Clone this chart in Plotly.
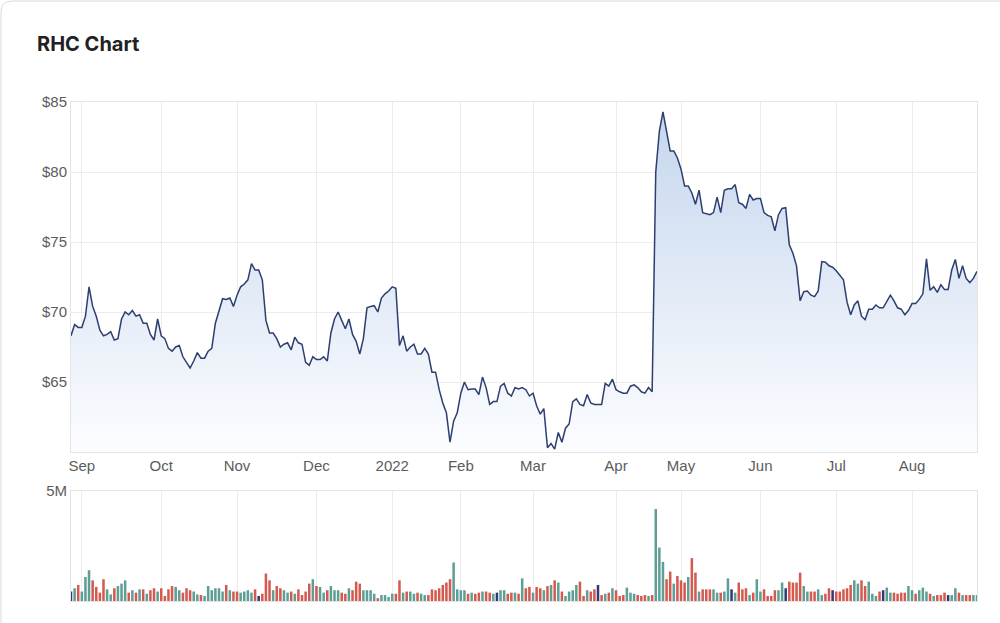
import pandas as pd
import plotly.graph_objects as go

# ---------------- data ----------------
holidays = ["2021-12-27", "2021-12-28", "2022-01-03", "2022-01-26",
            "2022-04-15", "2022-04-18", "2022-04-25", "2022-06-13"]
trade_dates = [d.strftime("%Y-%m-%d") for d in
               pd.bdate_range("2021-08-27", "2022-08-25") if d.strftime("%Y-%m-%d") not in holidays]

close_prices = [
    68.3, 69.1, 68.9, 68.9, 69.7, 71.8, 70.4, 69.7, 68.7, 68.3,
    68.4, 68.6, 68.0, 68.1, 69.5, 70.0, 69.8, 70.1, 69.7, 69.8,
    69.2, 69.2, 68.4, 68.0, 69.5, 68.3, 68.1, 67.4, 67.2, 67.5,
    67.6, 66.8, 66.4, 66.0, 66.5, 67.1, 66.7, 66.7, 67.2, 67.4,
    69.2, 70.0, 70.95, 70.9, 71.0, 70.4, 71.2, 71.8, 72.0, 72.3,
    73.45, 73.0, 73.0, 72.3, 69.4, 68.5, 68.5, 68.1, 67.5, 67.7,
    67.8, 67.3, 68.2, 67.8, 67.7, 66.4, 66.2, 66.8, 66.6, 66.6,
    66.8, 66.5, 68.5, 69.5, 70.0, 69.4, 68.8, 69.5, 68.4, 67.9,
    67.0, 68.1, 70.3, 70.4, 70.45, 70.0, 71.0, 71.3, 71.5, 71.8,
    71.7, 67.6, 68.3, 67.2, 67.5, 67.7, 67.0, 67.0, 67.4, 67.0,
    65.7, 65.7, 64.45, 63.5, 62.8, 60.7, 62.2, 62.8, 64.2, 65.0,
    64.45, 64.5, 64.5, 64.1, 65.35, 64.6, 63.4, 63.6, 63.6, 64.7,
    64.9, 64.2, 64.0, 64.6, 64.5, 64.6, 64.45, 64.0, 64.2, 63.3,
    62.7, 63.1, 60.3, 60.6, 60.2, 61.4, 60.7, 61.7, 62.0, 63.6,
    63.8, 63.4, 63.3, 64.1, 63.5, 63.4, 63.4, 63.4, 64.9, 64.7,
    65.2, 64.45, 64.3, 64.2, 64.2, 64.7, 64.8, 64.6, 64.3, 64.2,
    64.6, 64.3, 80.0, 82.9, 84.3, 83.0, 81.5, 81.5, 81.0, 80.2,
    79.0, 79.0, 78.5, 77.7, 78.7, 77.1, 77.0, 76.95, 77.1, 78.2,
    77.1, 78.7, 78.8, 78.8, 79.1, 77.8, 77.7, 77.4, 78.4, 78.0,
    78.1, 78.1, 77.1, 76.9, 76.8, 75.8, 76.95, 77.4, 77.45, 74.8,
    74.2, 73.3, 70.8, 71.45, 71.5, 71.2, 71.1, 71.5, 73.6, 73.55,
    73.3, 73.2, 72.95, 72.6, 72.3, 70.7, 69.8, 70.5, 70.8, 69.7,
    69.45, 70.2, 70.2, 70.5, 70.3, 70.3, 70.8, 71.2, 70.8, 70.3,
    70.2, 69.8, 70.1, 70.6, 70.6, 70.9, 71.3, 73.8, 71.55, 71.8,
    71.4, 71.95, 71.6, 71.6, 73.0, 73.75, 72.4, 73.3, 72.4, 72.1,
    72.4, 72.9,
]

volumes_m = [
    0.43, 0.58, 0.73, 0.43, 1.09, 1.40, 0.94, 0.64, 0.38, 0.99,
    0.53, 0.30, 0.58, 0.68, 0.79, 0.94, 0.38, 0.49, 0.38, 0.53,
    0.53, 0.33, 0.49, 0.58, 0.43, 0.58, 0.23, 0.53, 0.68, 0.64,
    0.49, 0.38, 0.58, 0.49, 0.43, 0.30, 0.27, 0.23, 0.68, 0.49,
    0.58, 0.58, 0.43, 0.73, 0.49, 0.43, 0.43, 0.38, 0.43, 0.49,
    0.38, 0.53, 0.23, 0.33, 1.25, 0.94, 0.49, 0.68, 0.58, 0.49,
    0.38, 0.43, 0.33, 0.53, 0.27, 0.43, 0.79, 0.99, 0.68, 0.64,
    0.38, 0.49, 0.68, 0.49, 0.49, 0.38, 0.33, 0.58, 0.49, 0.88,
    0.79, 0.49, 0.49, 0.49, 0.33, 0.13, 0.27, 0.27, 0.18, 0.33,
    0.33, 0.94, 0.38, 0.43, 0.43, 0.33, 0.38, 0.33, 0.27, 0.27,
    0.53, 0.49, 0.58, 0.73, 0.84, 0.99, 1.75, 0.53, 0.49, 0.49,
    0.33, 0.38, 0.33, 0.38, 0.43, 0.43, 0.38, 0.33, 0.38, 0.49,
    0.49, 0.33, 0.38, 0.38, 0.33, 1.03, 0.58, 0.64, 0.38, 0.64,
    0.58, 0.49, 0.68, 0.73, 0.94, 0.84, 0.43, 0.23, 0.43, 0.49,
    0.73, 0.88, 0.23, 0.49, 0.43, 0.53, 0.73, 0.27, 0.33, 0.38,
    0.58, 0.49, 0.23, 0.27, 0.61, 0.38, 0.33, 0.27, 0.23, 0.27,
    0.23, 0.27, 4.18, 2.43, 1.78, 0.99, 1.34, 0.79, 1.14, 0.94,
    0.84, 1.09, 1.95, 1.29, 0.43, 0.53, 0.53, 0.53, 0.53, 0.38,
    0.38, 0.43, 1.03, 0.53, 0.38, 0.84, 0.53, 0.58, 0.27, 0.38,
    0.99, 0.43, 0.53, 0.23, 0.23, 0.49, 0.49, 0.84, 0.58, 0.88,
    0.84, 0.84, 1.29, 0.68, 0.43, 0.43, 0.43, 0.53, 0.27, 0.33,
    0.58, 0.49, 0.43, 0.43, 0.53, 0.58, 0.73, 0.94, 0.79, 0.94,
    0.68, 0.88, 0.33, 0.23, 0.43, 0.49, 0.61, 0.38, 0.38, 0.33,
    0.38, 0.38, 0.68, 0.49, 0.33, 0.49, 0.61, 0.43, 0.33, 0.23,
    0.27, 0.27, 0.38, 0.27, 0.27, 0.58, 0.38, 0.27, 0.27, 0.27,
    0.27, 0.27,
]

# u = up (teal), d = down (red), n = unchanged (navy)
bar_direction = (
    "nuduuudddd" "uuduuududu" "dudduddddu" "uddduuduuu" "uuududduuu"
    "udnddduddu" "ududdddudu" "uduuuddudd" "duuuuduuuu" "dduduuduud"
    "dddddduuuu" "dudduddunu" "uddududdud" "dudududuuu" "udduddndud"
    "uddduuuddd" "uduuuddudd" "dudduddduu" "duunudddud" "uudddduund"
    "ddduudduud" "dnddddduud" "duuudnuudd" "dduuduuudu" "dddnuududd"
    "uu"
)

tick_dates = ["2021-09-01", "2021-10-01", "2021-11-01", "2021-12-01", "2022-01-04",
              "2022-02-01", "2022-03-01", "2022-04-01", "2022-05-02", "2022-06-01",
              "2022-07-01", "2022-08-01"]
tick_labels = ["Sep", "Oct", "Nov", "Dec", "2022", "Feb", "Mar", "Apr", "May",
               "Jun", "Jul", "Aug"]
price_ticks = [65, 70, 75, 80, 85]
price_labels = ["$65", "$70", "$75", "$80", "$85"]

# ---------------- figure ----------------
colour_map = {"u": "#5e9f95", "d": "#d45a50", "n": "#2e3b78"}
bar_colours = [colour_map[c] for c in bar_direction]
volumes = [v * 1e6 for v in volumes_m]

W, H = 1000, 623
ML, MR, MT, MB = 71, 23, 102, 22
PW, PH = W - ML - MR, H - MT - MB


def px(x):
    return (x - ML) / PW


def py(y):
    return (H - MB - y) / PH


fig = go.Figure()
fig.add_trace(go.Scatter(
    x=trade_dates, y=close_prices, mode="lines",
    line=dict(color="#2d3e6f", width=1.5),
    fill="tozeroy",
    fillgradient=dict(type="vertical", start=60, stop=85,
                      colorscale=[[0, "rgba(252,253,255,1)"], [1, "rgba(196,213,237,1)"]]),
    xaxis="x", yaxis="y", hoverinfo="skip", showlegend=False,
))
fig.add_trace(go.Bar(
    x=trade_dates, y=volumes, marker=dict(color=bar_colours, line=dict(width=0)),
    xaxis="x2", yaxis="y2", hoverinfo="skip", showlegend=False,
))

grid = "#ececec"
axis_font = dict(family="Liberation Sans, Arial, sans-serif", size=15, color="#5c5c5c")
common_x = dict(type="category", range=[0, len(trade_dates) - 1], tickmode="array",
                tickvals=tick_dates, ticktext=tick_labels, showgrid=True, gridcolor=grid,
                gridwidth=1, showline=True, linecolor="#e4e4e4", mirror=True, ticks="",
                zeroline=False, tickfont=axis_font)

fig.update_layout(
    width=W, height=H,
    margin=dict(l=ML, r=MR, t=MT, b=MB),
    paper_bgcolor="white", plot_bgcolor="white",
    bargap=0.3,
    xaxis=dict(common_x, domain=[0, 1], anchor="y"),
    xaxis2=dict(common_x, domain=[0, 1], anchor="y2", matches="x", showticklabels=False),
    yaxis=dict(domain=[py(452), 1], range=[60, 85], tickmode="array", tickvals=price_ticks,
               ticktext=price_labels, showgrid=True, gridcolor=grid, zeroline=False,
               showline=True, linecolor="#e4e4e4", mirror=True, ticks="", tickfont=axis_font),
    yaxis2=dict(domain=[0, py(491)], range=[0, 5e6], tickmode="array", tickvals=[5e6],
                ticktext=["5M"], showgrid=True, gridcolor=grid, zeroline=False,
                showline=True, linecolor="#e4e4e4", mirror=True, ticks="", tickfont=axis_font),
    title=dict(text="<b>RHC Chart</b>", xref="container", yref="container",
               x=37 / W, y=1 - 44 / H, xanchor="left", yanchor="middle",
               font=dict(family="Inter, sans-serif", size=20, color="#222222")),
    shapes=[dict(type="path", xref="paper", yref="paper",
                 path=f"M {px(1)},{py(630)} L {px(1)},{py(12)} Q {px(1)},{py(1)} {px(12)},{py(1)} L {px(1005)},{py(1)}",
                 line=dict(color="#dadada", width=1))],
)

fig.write_html("out.html")
